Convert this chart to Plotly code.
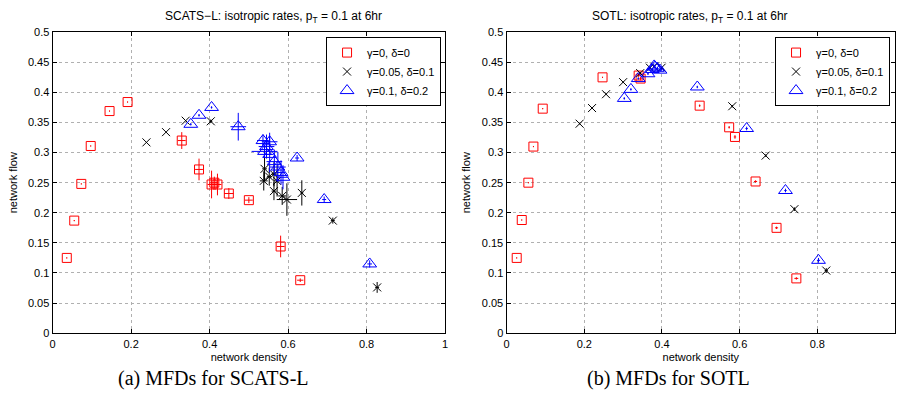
import plotly.graph_objects as go

# ---- SCATS-L (left panel) ----
scats_red_x = [0.036, 0.055, 0.073, 0.097, 0.145, 0.191, 0.329, 0.373, 0.405, 0.412, 0.420, 0.449, 0.500, 0.581, 0.631]
scats_red_y = [0.125, 0.187, 0.248, 0.311, 0.369, 0.384, 0.320, 0.272, 0.247, 0.250, 0.247, 0.232, 0.221, 0.144, 0.088]
scats_red_ex = [0.001, 0.001, 0.001, 0.001, 0.001, 0.001, 0.010, 0.010, 0.010, 0.010, 0.010, 0.012, 0.010, 0.010, 0.008]
scats_red_ey = [0.001, 0.001, 0.001, 0.001, 0.001, 0.001, 0.014, 0.018, 0.023, 0.010, 0.018, 0.009, 0.005, 0.018, 0.003]

scats_blk_x = [0.239, 0.289, 0.339, 0.403, 0.540, 0.538, 0.564, 0.572, 0.564, 0.585, 0.597, 0.635, 0.714, 0.827, 0.552]
scats_blk_y = [0.317, 0.334, 0.353, 0.352, 0.273, 0.253, 0.264, 0.253, 0.236, 0.228, 0.222, 0.233, 0.187, 0.076, 0.260]
scats_blk_ex = [0.0, 0.0, 0.0, 0.004, 0.006, 0.010, 0.006, 0.008, 0.006, 0.010, 0.026, 0.004, 0.005, 0.005, 0.006]
scats_blk_ey = [0.0, 0.0, 0.0, 0.003, 0.020, 0.016, 0.020, 0.026, 0.015, 0.015, 0.027, 0.021, 0.005, 0.009, 0.015]

scats_blu_x = [0.352, 0.373, 0.405, 0.473, 0.536, 0.553, 0.540, 0.553, 0.545, 0.565, 0.574, 0.582, 0.587, 0.623, 0.692, 0.808]
scats_blu_y = [0.347, 0.362, 0.375, 0.343, 0.320, 0.318, 0.302, 0.297, 0.310, 0.285, 0.276, 0.267, 0.259, 0.291, 0.222, 0.115]
scats_blu_ex = [0.002, 0.002, 0.002, 0.020, 0.015, 0.020, 0.033, 0.010, 0.020, 0.020, 0.020, 0.010, 0.012, 0.005, 0.005, 0.006]
scats_blu_ey = [0.002, 0.002, 0.002, 0.023, 0.010, 0.015, 0.010, 0.030, 0.020, 0.020, 0.025, 0.020, 0.020, 0.005, 0.005, 0.006]

# ---- SOTL (right panel) ----
sotl_red_x = [0.026, 0.039, 0.056, 0.069, 0.093, 0.247, 0.340, 0.345, 0.497, 0.573, 0.588, 0.641, 0.695, 0.746]
sotl_red_y = [0.125, 0.188, 0.250, 0.310, 0.373, 0.425, 0.428, 0.423, 0.378, 0.342, 0.326, 0.252, 0.175, 0.091]
sotl_red_ex = [0.001, 0.001, 0.001, 0.001, 0.001, 0.001, 0.003, 0.003, 0.002, 0.002, 0.003, 0.004, 0.004, 0.005]
sotl_red_ey = [0.001, 0.001, 0.001, 0.001, 0.001, 0.001, 0.003, 0.003, 0.002, 0.002, 0.003, 0.002, 0.002, 0.002]

sotl_blk_x = [0.188, 0.220, 0.256, 0.300, 0.344, 0.369, 0.380, 0.399, 0.581, 0.667, 0.741, 0.823]
sotl_blk_y = [0.348, 0.374, 0.397, 0.417, 0.432, 0.441, 0.443, 0.441, 0.377, 0.295, 0.206, 0.104]
sotl_blk_e = [0.001, 0.001, 0.001, 0.001, 0.002, 0.002, 0.002, 0.002, 0.002, 0.002, 0.003, 0.004]

sotl_blu_x = [0.303, 0.320, 0.339, 0.364, 0.375, 0.382, 0.388, 0.395, 0.380, 0.491, 0.618, 0.718, 0.803]
sotl_blu_y = [0.390, 0.405, 0.423, 0.431, 0.438, 0.442, 0.440, 0.437, 0.444, 0.409, 0.340, 0.237, 0.121]
sotl_blu_e = [0.002, 0.002, 0.002, 0.002, 0.002, 0.002, 0.002, 0.002, 0.002, 0.002, 0.003, 0.003, 0.004]

series_names = ["γ=0, δ=0", "γ=0.05, δ=0.1", "γ=0.1, δ=0.2"]
panel_titles = ["SCATS−L: isotropic rates, p<sub>T</sub> = 0.1 at 6hr",
                "SOTL: isotropic rates, p<sub>T</sub> = 0.1 at 6hr"]
captions = ["(a) MFDs for SCATS-L", "(b) MFDs for SOTL"]
x_ticks = [0, 0.2, 0.4, 0.6, 0.8, 1]
x_ticktext = ["0", "0.2", "0.4", "0.6", "0.8", "1"]
y_ticks = [0, 0.05, 0.1, 0.15, 0.2, 0.25, 0.3, 0.35, 0.4, 0.45, 0.5]
y_ticktext = ["0", "0.05", "0.1", "0.15", "0.2", "0.25", "0.3", "0.35", "0.4", "0.45", "0.5"]

RED, BLK, BLU = "#ff0000", "#000000", "#0000ff"
SANS = "Liberation Sans Narrow, Liberation Sans, Arial, sans-serif"

W, H = 898, 411
fig = go.Figure()


def add_series(x, y, ex, ey, color, symbol, size, name, axis, legend):
    fig.add_trace(go.Scatter(
        x=x, y=y, mode="markers", name=name,
        xaxis="x" + axis, yaxis="y" + axis, legend=legend, showlegend=True,
        marker=dict(symbol=symbol, size=size, color=color, line=dict(color=color, width=1)),
        error_x=dict(type="data", array=ex, color=color, thickness=1, width=0, visible=True),
        error_y=dict(type="data", array=ey, color=color, thickness=1, width=0, visible=True),
    ))


# left panel
add_series(scats_red_x, scats_red_y, scats_red_ex, scats_red_ey, RED, "square-open", 9, series_names[0], "", "legend")
add_series(scats_blk_x, scats_blk_y, scats_blk_ex, scats_blk_ey, BLK, "x-thin-open", 8, series_names[1], "", "legend")
add_series(scats_blu_x, scats_blu_y, scats_blu_ex, scats_blu_ey, BLU, "triangle-up-open", 12, series_names[2], "", "legend")

# right panel
add_series(sotl_red_x, sotl_red_y, sotl_red_ex, sotl_red_ey, RED, "square-open", 9, series_names[0], "2", "legend2")
add_series(sotl_blk_x, sotl_blk_y, sotl_blk_e, sotl_blk_e, BLK, "x-thin-open", 8, series_names[1], "2", "legend2")
add_series(sotl_blu_x, sotl_blu_y, sotl_blu_e, sotl_blu_e, BLU, "triangle-up-open", 12, series_names[2], "2", "legend2")

# panel geometry in pixels
left_dom = [50 / W, 445 / W]
right_dom = [507 / W, 1.0]
y_dom = [1 - 337 / H, 1 - 27 / H]

axis_common = dict(
    showline=True, linecolor="black", linewidth=1.3, mirror="allticks",
    ticks="inside", ticklen=4, tickcolor="black", tickwidth=1,
    showgrid=True, gridcolor="#b0b0b0", griddash="dot", gridwidth=1,
    zeroline=False, tickfont=dict(family=SANS, size=11, color="black"),
    title_font=dict(family=SANS, size=11, color="black"),
)

legend_common = dict(xanchor="right", yanchor="top", bgcolor="white",
                     bordercolor="black", borderwidth=1, tracegroupgap=0,
                     itemwidth=30,
                     font=dict(family=SANS, size=11, color="black"))

fig.update_layout(
    width=W, height=H,
    margin=dict(l=0, r=0, t=0, b=0),
    paper_bgcolor="white", plot_bgcolor="white",
    xaxis=dict(domain=left_dom, range=[0, 1], anchor="y", tickvals=x_ticks, ticktext=x_ticktext,
               title=dict(text="network density", standoff=4), **axis_common),
    yaxis=dict(domain=y_dom, range=[0, 0.5], anchor="x", tickvals=y_ticks, ticktext=y_ticktext,
               title=dict(text="network flow", standoff=8), **axis_common),
    xaxis2=dict(domain=right_dom, range=[0, 1], anchor="y2", tickvals=x_ticks, ticktext=x_ticktext,
                title=dict(text="network density", standoff=4), **axis_common),
    yaxis2=dict(domain=y_dom, range=[0, 0.5], anchor="x2", tickvals=y_ticks, ticktext=y_ticktext,
                title=dict(text="network flow", standoff=8), **axis_common),
    legend=dict(x=441 / W, y=1 - 32 / H, **legend_common),
    legend2=dict(x=893 / W, y=1 - 32 / H, **legend_common),
)

# panel titles
for cx, txt in zip([272, 692], panel_titles):
    fig.add_annotation(x=cx / W, y=1 - 11 / H, xref="paper", yref="paper",
                       text=txt, showarrow=False, xanchor="center", yanchor="middle",
                       font=dict(family=SANS, size=12, color="black"))

# sub-figure captions
for cx, txt in zip([212, 670], captions):
    fig.add_annotation(x=cx / W, y=1 - 384 / H, xref="paper", yref="paper",
                       text=txt, showarrow=False, xanchor="center", yanchor="middle",
                       font=dict(family="Liberation Serif, DejaVu Serif, serif", size=20, color="black"))

fig.write_html("out.html")
